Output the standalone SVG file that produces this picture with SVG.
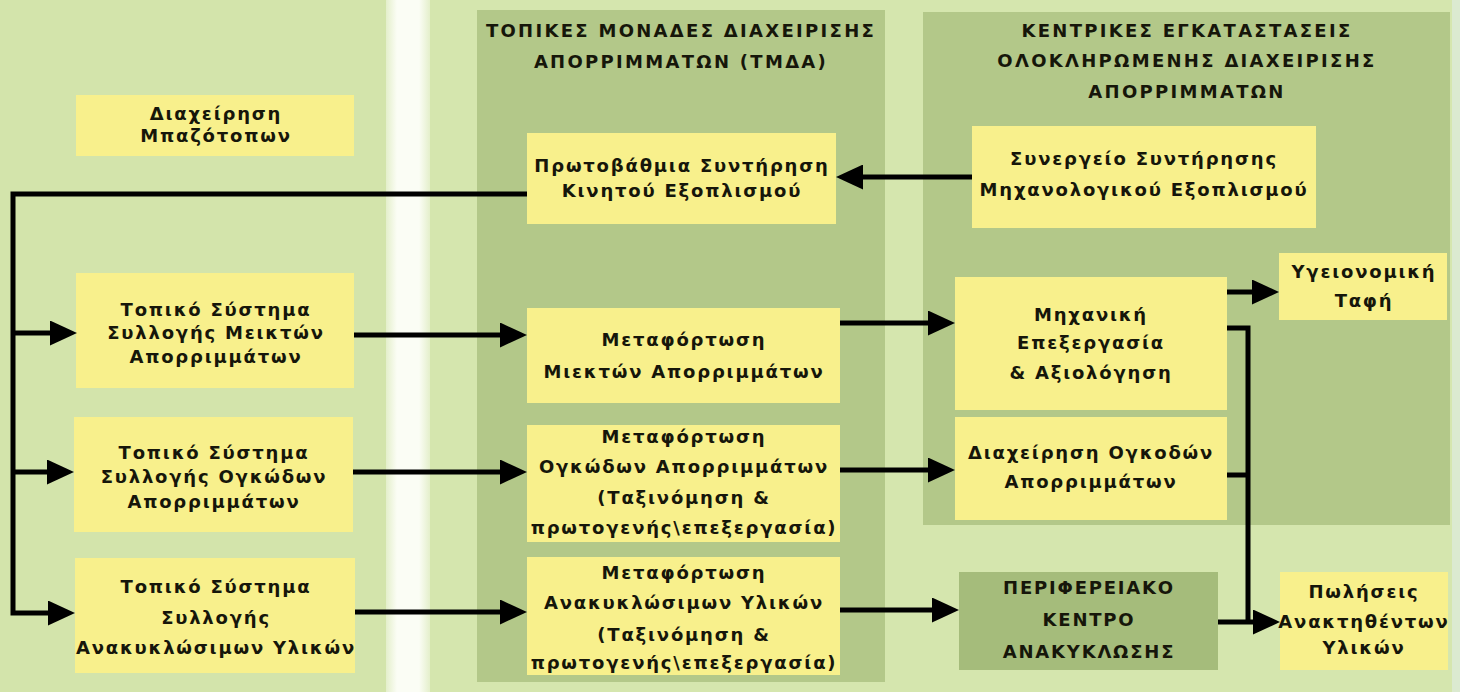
<svg xmlns="http://www.w3.org/2000/svg" width="1460" height="692" viewBox="0 0 1460 692">
<defs>
<style>
.bg{fill:#d3e4ab}
.panel{fill:#b3c889}
.box{fill:#f8f08c}
.dbox{fill:#a5bc7b}
text{font-family:"DejaVu Sans","Liberation Sans",sans-serif;font-weight:bold;font-size:18px;fill:#16160a;text-anchor:middle;letter-spacing:1.8px}
.title{letter-spacing:2.3px}
.conn{fill:none;stroke:#000;stroke-width:5}
</style>
<linearGradient id="strip" x1="0" x2="1" y1="0" y2="0">
<stop offset="0" stop-color="#e4efcb"/>
<stop offset="0.25" stop-color="#fbfdf5"/>
<stop offset="0.75" stop-color="#fbfdf5"/>
<stop offset="1" stop-color="#e4efcb"/>
</linearGradient>
<marker id="arr" markerUnits="userSpaceOnUse" markerWidth="27" markerHeight="25" refX="7" refY="12.5" orient="auto">
<path d="M0,0 L27,12.5 L0,25 z" fill="#000"/>
</marker>
</defs>

<rect class="bg" x="0" y="0" width="1460" height="692"/>
<rect x="386" y="0" width="44" height="692" fill="url(#strip)"/>
<rect x="430" y="0" width="1030" height="692" fill="#d5e6ae"/>
<rect x="1452" y="0" width="8" height="692" fill="#dbead0"/>

<g id="panel-tmda">
<rect class="panel" x="477" y="10" width="408" height="672"/>
<text class="title" x="681" y="37">ΤΟΠΙΚΕΣ ΜΟΝΑΔΕΣ ΔΙΑΧΕΙΡΙΣΗΣ</text>
<text class="title" x="681" y="68">ΑΠΟΡΡΙΜΜΑΤΩΝ (ΤΜΔΑ)</text>
</g>
<g id="panel-central">
<rect class="panel" x="923" y="12" width="527" height="513"/>
<text class="title" x="1187" y="37">ΚΕΝΤΡΙΚΕΣ ΕΓΚΑΤΑΣΤΑΣΕΙΣ</text>
<text class="title" x="1187" y="67">ΟΛΟΚΛΗΡΩΜΕΝΗΣ ΔΙΑΧΕΙΡΙΣΗΣ</text>
<text class="title" x="1187" y="98">ΑΠΟΡΡΙΜΜΑΤΩΝ</text>
</g>

<g id="n-bazotopoi">
<rect class="box" x="76" y="95" width="278" height="61"/>
<text x="216" y="120">Διαχείρηση</text>
<text x="216" y="142">Μπαζότοπων</text>
</g>
<g id="n-mixed-collect">
<rect class="box" x="76" y="273" width="278" height="115"/>
<text x="216" y="316">Τοπικό Σύστημα</text>
<text x="216" y="339">Συλλογής Μεικτών</text>
<text x="216" y="363">Απορριμμάτων</text>
</g>
<g id="n-bulky-collect">
<rect class="box" x="74" y="417" width="279" height="115"/>
<text x="214" y="459">Τοπικό Σύστημα</text>
<text x="214" y="483">Συλλογής Ογκώδων</text>
<text x="214" y="508">Απορριμμάτων</text>
</g>
<g id="n-recycl-collect">
<rect class="box" x="75" y="558" width="280" height="115"/>
<text x="216" y="593">Τοπικό Σύστημα</text>
<text x="216" y="624">Συλλογής</text>
<text x="216" y="654">Ανακυκλώσιμων Υλικών</text>
</g>

<g id="n-primary-maint">
<rect class="box" x="527" y="133" width="309" height="91"/>
<text x="682" y="172">Πρωτοβάθμια Συντήρηση</text>
<text x="682" y="197">Κινητού Εξοπλισμού</text>
</g>
<g id="n-transfer-mixed">
<rect class="box" x="527" y="308" width="313" height="95"/>
<text x="684" y="346">Μεταφόρτωση</text>
<text x="684" y="378">Μιεκτών Απορριμμάτων</text>
</g>
<g id="n-transfer-bulky">
<rect class="box" x="527" y="425" width="313" height="117"/>
<text x="684" y="443">Μεταφόρτωση</text>
<text x="684" y="473">Ογκώδων Απορριμμάτων</text>
<text x="684" y="504">(Ταξινόμηση &amp;</text>
<text x="684" y="534">πρωτογενής\επεξεργασία)</text>
</g>
<g id="n-transfer-recycl">
<rect class="box" x="527" y="557" width="313" height="118"/>
<text x="684" y="579">Μεταφόρτωση</text>
<text x="684" y="609">Ανακυκλώσιμων Υλικών</text>
<text x="684" y="641">(Ταξινόμηση &amp;</text>
<text x="684" y="669">πρωτογενής\επεξεργασία)</text>
</g>

<g id="n-workshop">
<rect class="box" x="972" y="126" width="344" height="102"/>
<text x="1144" y="165">Συνεργείο Συντήρησης</text>
<text x="1144" y="196">Μηχανολογικού Εξοπλισμού</text>
</g>
<g id="n-mbt">
<rect class="box" x="955" y="277" width="272" height="133"/>
<text x="1091" y="321">Μηχανική</text>
<text x="1091" y="349">Επεξεργασία</text>
<text x="1091" y="379">&amp; Αξιολόγηση</text>
</g>
<g id="n-bulky-mgmt">
<rect class="box" x="955" y="417" width="272" height="103"/>
<text x="1091" y="459">Διαχείρηση Ογκοδών</text>
<text x="1091" y="488">Απορριμμάτων</text>
</g>
<g id="n-landfill">
<rect class="box" x="1279" y="253" width="168" height="67"/>
<text x="1364" y="278">Υγειονομική</text>
<text x="1364" y="307">Ταφή</text>
</g>
<g id="n-recycling-center">
<rect class="dbox" x="959" y="572" width="259" height="98"/>
<text x="1089" y="594">ΠΕΡΙΦΕΡΕΙΑΚΟ</text>
<text x="1089" y="626">ΚΕΝΤΡΟ</text>
<text x="1089" y="658">ΑΝΑΚΥΚΛΩΣΗΣ</text>
</g>
<g id="n-sales">
<rect class="box" x="1280" y="572" width="168" height="98"/>
<text x="1364" y="598">Πωλήσεις</text>
<text x="1364" y="628">Ανακτηθέντων</text>
<text x="1364" y="654">Υλικών</text>
</g>

<g id="connectors">
<path class="conn" d="M972,177 L856,177" marker-end="url(#arr)"/>
<path class="conn" d="M527,194 L13,194 L13,613 L55,613" marker-end="url(#arr)"/>
<path class="conn" d="M13,333 L57,333" marker-end="url(#arr)"/>
<path class="conn" d="M13,472 L54,472" marker-end="url(#arr)"/>
<path class="conn" d="M354,335 L507,335" marker-end="url(#arr)"/>
<path class="conn" d="M353,472 L507,472" marker-end="url(#arr)"/>
<path class="conn" d="M355,612 L507,612" marker-end="url(#arr)"/>
<path class="conn" d="M840,323 L935,323" marker-end="url(#arr)"/>
<path class="conn" d="M840,470 L935,470" marker-end="url(#arr)"/>
<path class="conn" d="M840,610 L939,610" marker-end="url(#arr)"/>
<path class="conn" d="M1227,292 L1259,292" marker-end="url(#arr)"/>
<path class="conn" d="M1227,328 L1248,328 L1248,622"/>
<path class="conn" d="M1227,475 L1248,475"/>
<path class="conn" d="M1218,622 L1260,622" marker-end="url(#arr)"/>
</g>
</svg>
